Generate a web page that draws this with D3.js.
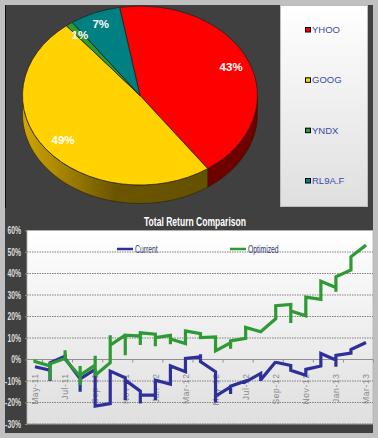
<!DOCTYPE html>
<html>
<head>
<meta charset="utf-8">
<script src="https://cdn.jsdelivr.net/npm/d3@7/dist/d3.min.js"></script>
<style>
  html, body { margin: 0; padding: 0; background: #c0c0c0; }
  svg { display: block; }
  text { font-family: "Liberation Sans", Arial, sans-serif; }
</style>
</head>
<body>
<div id="chart"></div>
<script>
// pie data
const tickers = ['YHOO', 'GOOG', 'YNDX', 'RL9A.F'];
const weights = [43, 49, 1, 7];
const tickerColors = ['#ff0000', '#ffd200', '#2e9a33', '#008080'];
const sideColors = ['#6e0000', 'url(#goldSide)', '#1a5a1d', '#004848'];

// line chart data, each month holds the values the line passes through at that month
const months = ['May-11', 'Jun-11', 'Jul-11', 'Aug-11', 'Sep-11', 'Oct-11', 'Nov-11', 'Dec-11',
  'Jan-12', 'Feb-12', 'Mar-12', 'Apr-12', 'May-12', 'Jun-12', 'Jul-12', 'Aug-12', 'Sep-12',
  'Oct-12', 'Nov-12', 'Dec-12', 'Jan-13', 'Feb-13', 'Mar-13'];
const currentReturns = [
  [-3.4], [-5, -10, -1.5], [1.5, 0.5], [-9, -15, -9], [-4.6, -21.7], [-20.5, -5.4],
  [-8.5, -19, -9.6], [-14.7, -20.5, -16.6], [-16.6, -19, -9.6], [-11.5, -3], [-5.7, 0.5],
  [1.2, 2.5, -1], [-5.7, -20, -17], [-12.7, -16, -12.4], [-10, -10.4], [-6.5, -10, -9.5],
  [-1, -1.3], [-2.8, -5], [-7.3, -4.6], [-3, 2.8], [-0.3, -3.4, 1.9], [3, 4.6], [7.9]
];
const optimizedReturns = [
  [0, -1], [-3, -9.6, -2], [0.5, 4.3, 0], [-7.8, -12, -3, -7.3], [-2.6, 1.7, -7.3],
  [-1.5, 11.3, 6.7], [11.3, 2, 11.3], [10.9, 6.7, 12.4], [11.8, 6.2, 10.2], [11.2, 7.1, 9.5],
  [7.4, 13.3], [12, 10.2], [10.5, 4], [7.8, 5, 8.7], [9.8, 14.9], [12.9, 12.9], [19, 25],
  [25.6, 17, 22.6], [20.3, 29], [28, 36.4], [33.5, 31.5, 38.5], [41.6, 47.8], [53.2]
];
const seriesNames = ['Current', 'Optimized'];
const seriesColors = ['#2f2f9c', '#2d9a33'];
const yTicks = [60, 50, 40, 30, 20, 10, 0, -10, -20, -30];

const W = 378, H = 438;
const svg = d3.select('#chart').append('svg').attr('width', W).attr('height', H);
const defs = svg.append('defs');

const addGradient = (id, x2, y2, stops) => {
  const g = defs.append('linearGradient').attr('id', id)
    .attr('x1', 0).attr('y1', 0).attr('x2', x2).attr('y2', y2);
  stops.forEach(s => g.append('stop').attr('offset', s[0]).attr('stop-color', s[1]));
};
addGradient('panelFade', 0, 1, [[0, '#ffffff'], [1, '#dfdfdf']]);
addGradient('goldSide', 1, 0, [[0, '#d0a600'], [0.2, '#a88600'], [0.5, '#6b5500'], [1, '#665100']]);

// no narrow font installed, so squeeze the glyphs to the width the original had
const condense = (sel, factor) => sel.each(function () {
  d3.select(this).attr('lengthAdjust', 'spacingAndGlyphs')
    .attr('textLength', this.getComputedTextLength() * factor);
});

// dark backing panel
svg.append('rect').attr('x', 5).attr('y', 5).attr('width', 368).attr('height', 428).attr('fill', '#404040');
svg.append('line').attr('x1', 5.5).attr('x2', 5.5).attr('y1', 5).attr('y2', 208).attr('stroke', '#111');

// ---- pie ----
const cx = 140, cy = 95.5, rx = 117.5, ry = 89.5, depth = 18.5;
const startAngle = -10 * Math.PI / 180;
const pieData = d3.pie().sort(null)
  .startAngle(startAngle).endAngle(startAngle + 2 * Math.PI)(weights);

const rimPoint = (a, dy) => [cx + rx * Math.sin(a), cy - ry * Math.cos(a) + dy];

// side wall, only the part of each slice that faces the viewer
const pieG = svg.append('g');
const rimPath = d => {
  const a0 = Math.max(d.startAngle, Math.PI / 2);
  const a1 = Math.min(d.endAngle, 3 * Math.PI / 2);
  if (a1 <= a0) return null;
  const steps = d3.range(0, 41).map(i => a0 + (a1 - a0) * i / 40);
  const pts = steps.map(a => rimPoint(a, 0)).concat(steps.slice().reverse().map(a => rimPoint(a, depth)));
  return d3.line()(pts) + 'Z';
};
pieG.selectAll('path.side').data(pieData).join('path')
  .attr('class', 'side')
  .attr('d', rimPath)
  .attr('fill', (d, i) => sideColors[i])
  .attr('stroke', '#2a2000').attr('stroke-width', 0.6);

const topG = pieG.append('g').attr('transform', `translate(${cx},${cy}) scale(1,${ry / rx})`);
const arc = d3.arc().innerRadius(0).outerRadius(rx);
topG.selectAll('path.slice').data(pieData).join('path')
  .attr('class', 'slice')
  .attr('d', arc)
  .attr('fill', (d, i) => tickerColors[i])
  .attr('stroke', '#1c1c1c').attr('stroke-width', 0.7)
  .attr('vector-effect', 'non-scaling-stroke');

// percent labels
const labelArc = [0.84, 0.82, 0.85, 0.87];
pieG.selectAll('text.pct').data(pieData).join('text')
  .attr('class', 'pct')
  .attr('x', (d, i) => cx + rx * labelArc[i] * Math.sin((d.startAngle + d.endAngle) / 2))
  .attr('y', (d, i) => cy - ry * labelArc[i] * Math.cos((d.startAngle + d.endAngle) / 2) + 4)
  .attr('text-anchor', 'middle')
  .attr('font-size', 11.5).attr('font-weight', 'bold').attr('fill', '#fff')
  .text(d => d.data + '%');

// pie legend
svg.append('rect').attr('x', 280.5).attr('y', 5.5).attr('width', 87).attr('height', 201)
  .attr('fill', 'url(#panelFade)').attr('stroke', '#bdbdbd').attr('stroke-width', 1);
const legendY = d3.scalePoint().domain(tickers).range([30, 181]);
const legendG = svg.selectAll('g.pie-key').data(tickers).join('g')
  .attr('class', 'pie-key')
  .attr('transform', d => `translate(306,${legendY(d)})`);
legendG.append('rect').attr('x', -0.5).attr('y', -2.5).attr('width', 5).attr('height', 4.5)
  .attr('fill', (d, i) => tickerColors[i]).attr('stroke', '#000').attr('stroke-width', 1);
legendG.append('text').attr('x', 6).attr('y', 3)
  .attr('font-size', 9.5).attr('fill', '#3a4aa8').text(d => d);

// ---- line chart ----
const plot = { left: 27, right: 373, top: 230.5, bottom: 424 };
svg.append('rect').attr('x', plot.left).attr('y', plot.top)
  .attr('width', plot.right - plot.left).attr('height', plot.bottom - plot.top)
  .attr('fill', 'url(#panelFade)').attr('stroke', '#b5b5b5').attr('stroke-width', 0.8);

const y = d3.scaleLinear().domain([-30, 60]).range([plot.bottom, plot.top]);
const x = d3.scalePoint().domain(months).range([35, 366]);

svg.append('text')
  .attr('x', 195).attr('y', 226).attr('text-anchor', 'middle')
  .attr('font-size', 13).attr('font-weight', 'bold').attr('fill', '#fff')
  .text('Total Return Comparison')
  .attr('lengthAdjust', 'spacingAndGlyphs').attr('textLength', 102);

// gridlines
svg.append('g').selectAll('line').data(yTicks.filter(d => d !== 0 && d !== 60)).join('line')
  .attr('x1', plot.left).attr('x2', plot.right)
  .attr('y1', d => y(d)).attr('y2', d => y(d))
  .attr('stroke', '#808080').attr('stroke-width', 1).attr('stroke-dasharray', '1.5,1');

// y axis labels
const yAxis = d3.axisLeft(y).tickValues(yTicks).tickSize(2).tickPadding(4).tickFormat(d => d + '%');
const yAxisG = svg.append('g').attr('transform', `translate(${plot.left},0)`).call(yAxis);
yAxisG.select('.domain').remove();
yAxisG.selectAll('line').attr('stroke', '#9a8a70');
yAxisG.selectAll('text')
  .attr('font-size', 10).attr('font-weight', 'bold').attr('fill', '#dcdcdc')
  .call(condense, 0.68);

// x axis sits at zero, labels stay under it, ticks fall between the months
const xAxis = d3.axisBottom(x)
  .tickValues(months.filter((d, i) => i % 2 === 0)).tickSize(0).tickPadding(0);
const xAxisG = svg.append('g').attr('transform', `translate(0,${y(0)})`).call(xAxis);
xAxisG.select('.domain').attr('d', `M${plot.left},0H${plot.right}`).attr('stroke', '#909090').attr('stroke-width', 1);
xAxisG.selectAll('text')
  .attr('transform', 'rotate(-90)')
  .attr('text-anchor', 'end')
  .attr('x', -14).attr('y', 0).attr('dy', '0.32em')
  .attr('font-size', 8.5).attr('letter-spacing', 0.6).attr('fill', '#8a8a8a');
xAxisG.selectAll('line.between').data(months.filter((d, i) => i % 2 === 0)).join('line')
  .attr('class', 'between')
  .attr('x1', d => x(d) + x.step() / 2).attr('x2', d => x(d) + x.step() / 2)
  .attr('y1', 0).attr('y2', 3)
  .attr('stroke', '#909090');

// lines
const flatten = rows => rows.flatMap((vals, i) => vals.map(v => [months[i], v]));
const line = d3.line().x(d => x(d[0])).y(d => y(d[1]));
svg.selectAll('path.series').data([currentReturns, optimizedReturns]).join('path')
  .attr('class', 'series')
  .attr('d', d => line(flatten(d)))
  .attr('fill', 'none')
  .attr('stroke', (d, i) => seriesColors[i])
  .attr('stroke-width', 3.2)
  .attr('stroke-linejoin', 'miter').attr('stroke-miterlimit', 2);

// line legend
const keyX = d3.scaleOrdinal().domain(seriesNames).range([117, 230]);
const key = svg.selectAll('g.line-key').data(seriesNames).join('g')
  .attr('class', 'line-key')
  .attr('transform', d => `translate(${keyX(d)},249)`);
key.append('line').attr('x1', 0).attr('x2', 16)
  .attr('stroke', (d, i) => seriesColors[i]).attr('stroke-width', 2.5);
key.append('text')
  .attr('x', 18).attr('y', 3.5).attr('font-size', 10).attr('fill', '#333a70').text(d => d)
  .call(condense, 0.68);
</script>
</body>
</html>
